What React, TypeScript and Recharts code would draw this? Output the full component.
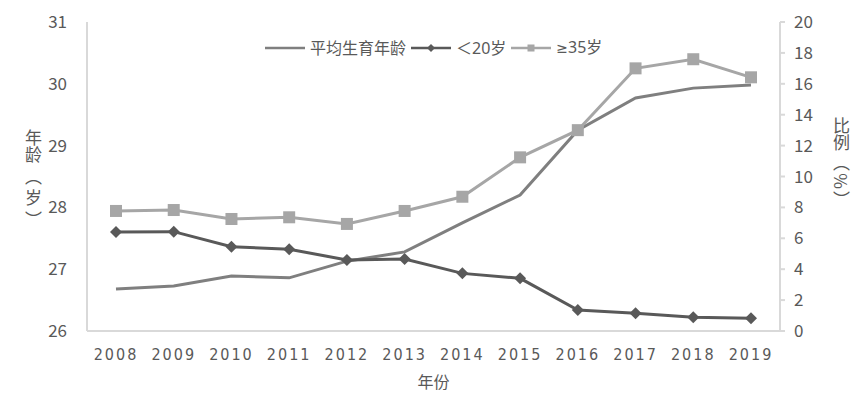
import React from "react";
import { LineChart, Line, XAxis, YAxis } from "recharts";

const years = ["2008", "2009", "2010", "2011", "2012", "2013", "2014", "2015", "2016", "2017", "2018", "2019"];
const avgAge = [26.68, 26.73, 26.89, 26.86, 27.13, 27.28, 27.75, 28.2, 29.25, 29.77, 29.93, 29.98];
const under20 = [6.4, 6.43, 5.46, 5.29, 4.6, 4.66, 3.73, 3.41, 1.36, 1.15, 0.89, 0.82];
const over35 = [7.77, 7.83, 7.25, 7.36, 6.93, 7.77, 8.69, 11.24, 13.0, 17.0, 17.59, 16.42];
const leftTicks = [26, 27, 28, 29, 30, 31];
const rightTicks = [0, 2, 4, 6, 8, 10, 12, 14, 16, 18, 20];

const seriesNames = ["平均生育年龄", "＜20岁", "≥35岁"];
const colors = ["#7f7f7f", "#595959", "#a6a6a6"];
const leftLabel = "年龄（岁）";
const rightLabel = "比例（%）";
const xLabel = "年份";

const data = years.map((y, i) => ({ year: y, avg: avgAge[i], u20: under20[i], o35: over35[i] }));

const FONT = "'Noto Sans CJK SC', 'Noto Sans', sans-serif";
const TEXT = "#595959";

const Diamond = (props: any) => {
  const { cx, cy, fill, size = 6 } = props;
  if (cx == null || cy == null) return null;
  return <path d={`M${cx},${cy - size}L${cx + size},${cy}L${cx},${cy + size}L${cx - size},${cy}Z`} fill={fill} />;
};
const Square = (props: any) => {
  const { cx, cy, fill, size = 6 } = props;
  if (cx == null || cy == null) return null;
  return <rect x={cx - size} y={cy - size} width={size * 2} height={size * 2} fill={fill} />;
};

const renderName = (name: string) => {
  if (name.startsWith("≥")) {
    return (
      <span>
        <span style={{ fontFamily: "'DejaVu Sans', sans-serif", fontSize: 14 }}>≥</span>
        {name.slice(1)}
      </span>
    );
  }
  return <span>{name}</span>;
};

const LegendOverlay = () => {
  const items = [
    { name: seriesNames[0], color: colors[0], marker: null },
    { name: seriesNames[1], color: colors[1], marker: "d" },
    { name: seriesNames[2], color: colors[2], marker: "s" },
  ];
  return (
    <div
      style={{
        position: "absolute",
        left: 265,
        top: 37,
        display: "flex",
        alignItems: "center",
        fontFamily: "'Noto Sans', 'Noto Sans CJK SC', sans-serif",
        fontSize: 16,
        lineHeight: "20px",
        color: TEXT,
        whiteSpace: "nowrap",
      }}
    >
      {items.map((it, i) => (
        <div key={i} style={{ display: "flex", alignItems: "center", marginRight: 5 }}>
          <svg width={40} height={12} style={{ marginRight: 5 }}>
            <line x1={0} y1={6} x2={40} y2={6} stroke={it.color} strokeWidth={2.5} />
            {it.marker === "d" && <Diamond cx={20} cy={6} fill={it.color} size={4} />}
            {it.marker === "s" && <Square cx={20} cy={6} fill={it.color} size={3.5} />}
          </svg>
          {renderName(it.name)}
        </div>
      ))}
    </div>
  );
};

const VerticalText = ({ text, cx, top, pad }: { text: string; cx: number; top: number; pad: number }) => (
  <div
    style={{
      position: "absolute",
      left: cx - 10,
      top,
      width: 20,
      writingMode: "vertical-rl",
      fontFamily: FONT,
      fontSize: 17,
      lineHeight: "20px",
      letterSpacing: 0.4,
      color: TEXT,
      whiteSpace: "nowrap",
    }}
  >
    {Array.from(text).map((ch, i) =>
      ch === "（" || ch === "）" ? (
        <span key={i} style={{ paddingTop: pad, paddingBottom: pad }}>
          {ch}
        </span>
      ) : (
        <span key={i}>{ch}</span>
      )
    )}
  </div>
);

export default function App() {
  return (
    <div style={{ position: "relative", marginLeft: -8, marginTop: -8, width: 865, height: 399, background: "#fff" }}>
      <LineChart width={865} height={399} data={data} margin={{ top: 22, right: 0, bottom: 0, left: 0 }}>
        <XAxis
          dataKey="year"
          height={68}
          padding={{ left: 29, right: 29 }}
          stroke="#d9d9d9"
          strokeWidth={2}
          tickLine={false}
          tick={{ fill: TEXT, fontSize: 16, fontFamily: "'DejaVu Sans Condensed', 'DejaVu Sans', sans-serif", letterSpacing: 2 }}
          tickMargin={12}
          label={{ value: xLabel, position: "insideBottom", offset: 11, fill: TEXT, fontSize: 16, fontFamily: FONT }}
        />
        <YAxis
          yAxisId="left"
          orientation="left"
          width={87}
          domain={[26, 31]}
          ticks={leftTicks}
          interval={0}
          stroke="#d9d9d9"
          strokeWidth={2}
          tickLine={false}
          tickMargin={14}
          tick={{ fill: TEXT, fontSize: 17, fontFamily: FONT }}
        />
        <YAxis
          yAxisId="right"
          orientation="right"
          width={85}
          domain={[0, 20]}
          ticks={rightTicks}
          interval={0}
          stroke="#d9d9d9"
          strokeWidth={2}
          tickSize={5}
          tickMargin={9}
          tick={{ fill: TEXT, fontSize: 17, fontFamily: FONT }}
        />
        <Line yAxisId="left" dataKey="avg" name={seriesNames[0]} stroke={colors[0]} strokeWidth={3} dot={false} isAnimationActive={false} />
        <Line
          yAxisId="right"
          dataKey="u20"
          name={seriesNames[1]}
          stroke={colors[1]}
          strokeWidth={3}
          dot={(p: any) => <Diamond key={p.index} cx={p.cx} cy={p.cy} fill={colors[1]} size={6} />}
          isAnimationActive={false}
        />
        <Line
          yAxisId="right"
          dataKey="o35"
          name={seriesNames[2]}
          stroke={colors[2]}
          strokeWidth={3}
          dot={(p: any) => <Square key={p.index} cx={p.cx} cy={p.cy} fill={colors[2]} size={6} />}
          isAnimationActive={false}
        />
      </LineChart>
      <LegendOverlay />
      <VerticalText text={leftLabel} cx={33} top={129} pad={4} />
      <VerticalText text={rightLabel} cx={841} top={117} pad={2} />
    </div>
  );
}
